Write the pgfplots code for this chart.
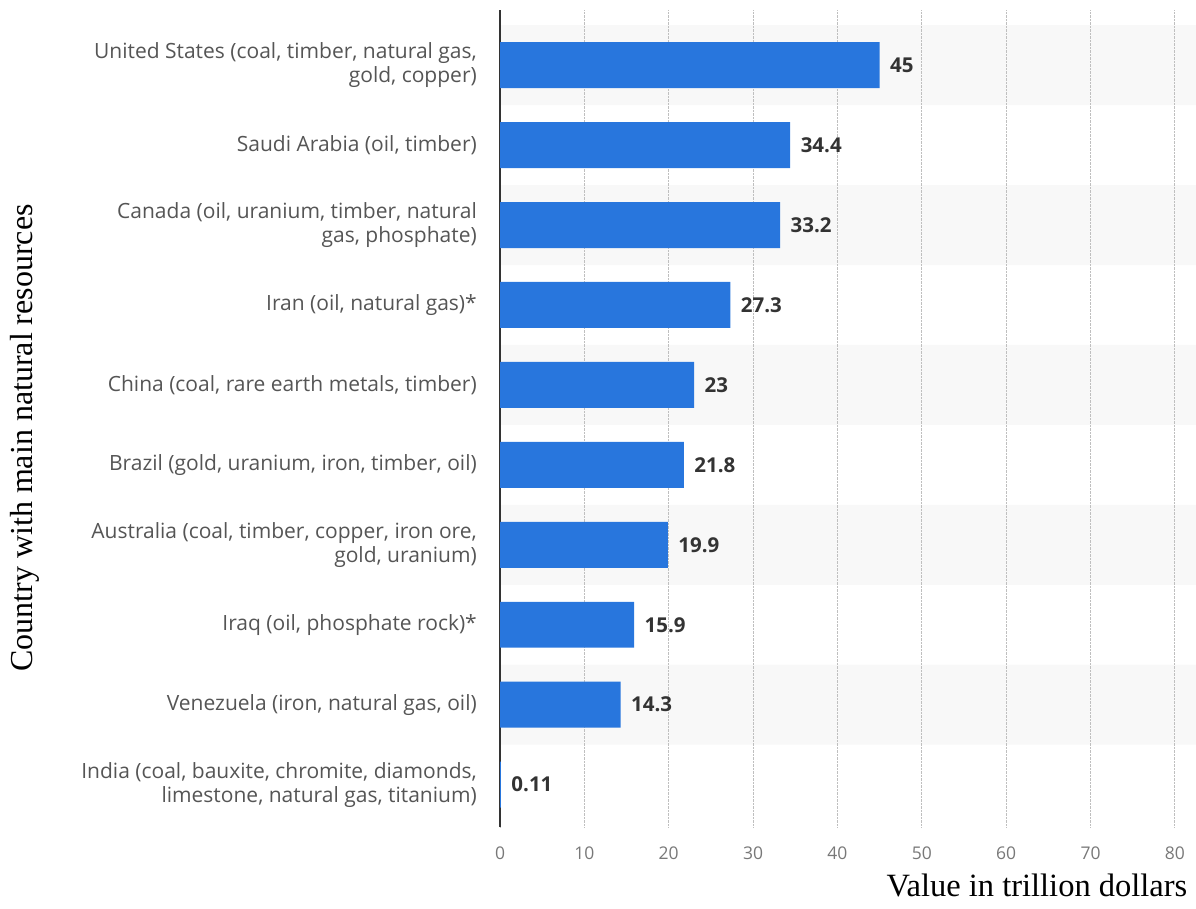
\documentclass[border=0pt]{standalone}
\usepackage{fontspec}
\setmainfont{Open Sans}
\newfontfamily\serif{Liberation Serif}
\newfontfamily\boldf{Open Sans}[UprightFont=* Bold]
\usepackage{pgfplots}
\usepackage{pgfplotstable}
\pgfplotsset{compat=1.18}
\definecolor{barblue}{RGB}{40,118,221}
\definecolor{stripe}{RGB}{248,248,248}
\definecolor{lbl}{RGB}{85,85,85}
\definecolor{tick}{RGB}{120,120,120}
\definecolor{val}{RGB}{51,51,51}
\pgfplotstableread{
y x label
9 45 45
8 34.4 34.4
7 33.2 33.2
6 27.3 27.3
5 23 23
4 21.8 21.8
3 19.9 19.9
2 15.9 15.9
1 14.3 14.3
0 0.11 0.11
}\datatable
\pgfplotstableread{
y x
9 82.5
7 82.5
5 82.5
3 82.5
1 82.5
}\stripetable
\begin{document}
\begin{tikzpicture}
\begin{axis}[
  at={(500pt,81pt)}, anchor=south west,
  scale only axis, width=696pt, height=817pt,
  set layers,
  xmin=0, xmax=82.5, ymin=-0.53, ymax=9.69,
  xtick={0,10,...,80},
  ytick={0,...,9},
  yticklabels={
    {India (coal, bauxite, chromite, diamonds,\\limestone, natural gas, titanium)},
    {Venezuela (iron, natural gas, oil)},
    {Iraq (oil, phosphate rock)*},
    {Australia (coal, timber, copper, iron ore,\\gold, uranium)},
    {Brazil (gold, uranium, iron, timber, oil)},
    {China (coal, rare earth metals, timber)},
    {Iran (oil, natural gas)*},
    {Canada (oil, uranium, timber, natural\\gas, phosphate)},
    {Saudi Arabia (oil, timber)},
    {United States (coal, timber, natural gas,\\gold, copper)}
  },
  major tick length=0pt,
  xmajorgrids,
  grid style={densely dotted, draw=black!25, line width=1pt},
  axis x line*=bottom,
  axis y line*=left,
  x axis line style={draw=none},
  y axis line style={draw=black!80, line width=1.5pt},
  xticklabel style={font=\fontsize{17.5}{20}\selectfont, text=tick, yshift=-16pt},
  yticklabel style={font=\fontsize{21}{24}\selectfont, text=lbl, align=right, inner sep=0pt, xshift=-23pt},
  /pgf/number format/assume math mode=true,
  clip=false,
]
\addplot[xbar, on layer=axis background, bar width=1, bar shift=0pt, fill=stripe, draw=none, forget plot] table[x=x,y=y] {\stripetable};
\addplot[xbar, bar width=0.575, bar shift=0pt, fill=barblue, draw=none,
  point meta=explicit symbolic,
  nodes near coords,
  nodes near coords style={anchor=west, xshift=7pt, font=\boldf\fontsize{20.5}{22}\selectfont, text=val}]
  table[x=x,y=y,meta=label] {\datatable};
\end{axis}
\node[rotate=90, font=\serif\fontsize{32}{36}\selectfont] at (25pt,470pt) {Country with main natural resources};
\node[font=\serif\fontsize{32.5}{36}\selectfont] at (1037pt,23pt) {Value in trillion dollars};
\pgfresetboundingbox
\path[use as bounding box] (0pt,0pt) rectangle (1196pt,908pt);
\end{tikzpicture}
\end{document}
